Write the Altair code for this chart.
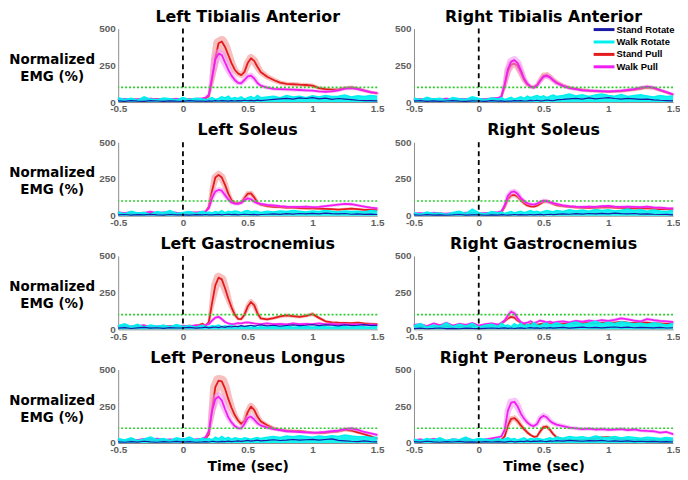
import altair as alt
import pandas as pd

TIME = [-0.5, -0.45, -0.4, -0.35, -0.3, -0.25, -0.2, -0.15, -0.1, -0.05,
        0.0, 0.05, 0.1, 0.15, 0.175, 0.2, 0.225, 0.25, 0.275, 0.3,
        0.325, 0.35, 0.375, 0.4, 0.425, 0.45, 0.475, 0.5, 0.525, 0.55,
        0.575, 0.6, 0.65, 0.7, 0.75, 0.8, 0.85, 0.9, 0.95, 1.0,
        1.05, 1.1, 1.15, 1.2, 1.25, 1.3, 1.35, 1.4, 1.45, 1.5]

SERIES = ["Stand Rotate", "Walk Rotate", "Stand Pull", "Walk Pull"]
COLORS = ["#1a1aa6", "#00f0f0", "#e41a1c", "#f01ef0"]
BAND_COLORS = {"Stand Pull": "#f28b8b", "Walk Pull": "#f590f5"}
X_TICKS = [-0.5, 0, 0.5, 1, 1.5]
Y_TICKS = [0, 250, 500]
THRESHOLD = [100]
EVENT = [0]

# Left Tibialis Anterior
LTA_SR = [8, 5, 10, 6, 4, 9, 7, 5, 8, 6,
          5, 9, 6, 7, 5, 8, 6, 9, 7, 10,
          8, 6, 9, 7, 10, 8, 12, 9, 11, 8,
          13, 10, 14, 18, 22, 25, 20, 28, 24, 30,
          22, 26, 18, 24, 20, 16, 12, 10, 9, 8]
LTA_WR = [30, 18, 25, 12, 35, 20, 15, 28, 22, 14,
          30, 18, 25, 20, 15, 22, 30, 18, 25, 35,
          28, 40, 22, 30, 25, 35, 20, 30, 38, 25,
          45, 30, 35, 40, 30, 45, 35, 40, 30, 42,
          35, 45, 38, 40, 48, 35, 42, 38, 45, 40]
LTA_SP = [20, 18, 22, 15, 20, 17, 21, 16, 19, 22,
          18, 20, 17, 22, 25, 40, 150, 300, 400, 412,
          375, 320, 265, 220, 195, 183, 205, 265, 298, 280,
          240, 205, 172, 150, 132, 124, 121, 118, 116, 112,
          95, 88, 84, 86, 95, 100, 92, 78, 66, 60]
LTA_WP = [18, 22, 15, 20, 16, 24, 18, 20, 17, 22,
          20, 18, 22, 25, 30, 50, 170, 290, 330, 320,
          270, 220, 180, 150, 130, 128, 150, 175, 180, 160,
          130, 112, 98, 90, 88, 86, 84, 82, 80, 78,
          72, 70, 72, 80, 92, 95, 88, 78, 68, 60]

# Right Tibialis Anterior
RTA_SR = [6, 9, 5, 8, 4, 7, 10, 6, 5, 8,
          7, 5, 9, 6, 8, 5, 7, 6, 9, 8,
          10, 7, 8, 11, 9, 12, 8, 10, 14, 11,
          9, 15, 18, 22, 25, 20, 28, 22, 26, 30,
          24, 20, 25, 22, 18, 20, 15, 12, 10, 8]
RTA_WR = [28, 15, 32, 20, 25, 12, 30, 22, 18, 35,
          25, 15, 28, 20, 30, 18, 25, 32, 20, 28,
          35, 25, 40, 30, 38, 45, 35, 42, 30, 40,
          48, 38, 45, 55, 42, 50, 38, 48, 55, 45,
          40, 52, 38, 45, 50, 42, 35, 45, 38, 42]
RTA_SP = [15, 18, 14, 20, 16, 18, 15, 19, 17, 20,
          18, 16, 20, 22, 35, 110, 210, 255, 262, 245,
          200, 150, 120, 105, 103, 115, 150, 180, 184, 170,
          150, 135, 112, 98, 90, 82, 78, 75, 72, 70,
          72, 75, 80, 85, 92, 100, 95, 80, 65, 50]
RTA_WP = [20, 18, 22, 16, 20, 24, 18, 22, 20, 18,
          22, 20, 25, 28, 40, 120, 225, 275, 285, 265,
          215, 160, 125, 105, 98, 112, 145, 172, 178, 168,
          148, 130, 110, 95, 88, 80, 78, 76, 74, 72,
          75, 78, 82, 88, 98, 105, 98, 82, 68, 52]

# Left Soleus
LS_SR = [5, 8, 4, 7, 5, 9, 6, 4, 8, 5,
         6, 4, 7, 5, 8, 6, 5, 7, 9, 6,
         8, 10, 7, 9, 6, 8, 10, 8, 7, 9,
         6, 8, 10, 12, 9, 14, 11, 15, 12, 16,
         13, 18, 14, 12, 15, 10, 12, 9, 11, 8]
LS_WR = [25, 12, 30, 18, 22, 10, 28, 20, 35, 15,
         22, 28, 15, 30, 20, 25, 18, 28, 22, 35,
         20, 30, 25, 32, 28, 20, 30, 35, 25, 30,
         28, 22, 30, 25, 32, 28, 35, 30, 25, 32,
         28, 35, 30, 25, 32, 28, 30, 25, 35, 30]
LS_SP = [15, 12, 18, 14, 16, 20, 15, 18, 14, 17,
         15, 18, 20, 22, 28, 60, 170, 260, 278, 260,
         210, 150, 105, 88, 85, 90, 120, 150, 152, 125,
         90, 75, 65, 60, 58, 55, 55, 52, 50, 50,
         48, 46, 44, 42, 45, 48, 44, 40, 42, 40]
LS_WP = [22, 18, 25, 15, 20, 28, 18, 22, 25, 20,
         18, 24, 20, 26, 30, 50, 120, 165, 175, 170,
         140, 110, 90, 82, 80, 88, 105, 118, 112, 95,
         85, 80, 74, 70, 65, 62, 60, 60, 62, 58,
         60, 65, 70, 75, 80, 78, 70, 62, 55, 50]

# Right Soleus
RS_SR = [5, 3, 7, 4, 6, 3, 5, 8, 4, 6,
         5, 3, 6, 4, 7, 5, 4, 6, 8, 5,
         7, 5, 6, 8, 5, 7, 9, 6, 8, 10,
         7, 9, 12, 10, 14, 11, 15, 12, 16, 13,
         18, 14, 12, 15, 11, 13, 10, 8, 9, 6]
RS_WR = [20, 10, 25, 15, 18, 8, 22, 30, 15, 45,
         20, 12, 28, 18, 25, 15, 22, 28, 18, 25,
         30, 20, 28, 35, 25, 30, 22, 28, 35, 30,
         25, 35, 28, 40, 32, 38, 30, 42, 35, 40,
         32, 38, 45, 35, 40, 30, 38, 32, 28, 35]
RS_SP = [12, 10, 14, 12, 15, 10, 13, 11, 14, 12,
         10, 13, 15, 18, 22, 60, 115, 138, 142, 130,
         105, 85, 70, 63, 62, 68, 82, 95, 98, 90,
         80, 72, 65, 60, 56, 55, 54, 55, 56, 58,
         55, 54, 52, 50, 52, 50, 48, 45, 44, 42]
RS_WP = [15, 18, 12, 20, 16, 14, 18, 15, 20, 17,
         15, 18, 20, 25, 30, 70, 135, 160, 165, 150,
         120, 100, 85, 78, 76, 82, 95, 102, 100, 92,
         85, 80, 70, 65, 62, 60, 62, 60, 65, 66,
         62, 60, 62, 60, 58, 62, 56, 55, 52, 50]

# Left Gastrocnemius
LG_SR = [8, 12, 6, 10, 14, 8, 11, 7, 12, 9,
         10, 14, 8, 12, 15, 10, 13, 16, 12, 18,
         14, 20, 16, 22, 18, 25, 20, 24, 28, 22,
         26, 30, 24, 28, 22, 26, 30, 25, 28, 32,
         26, 30, 28, 24, 30, 26, 28, 32, 25, 28]
LG_WR = [25, 38, 20, 35, 15, 30, 22, 28, 18, 32,
         20, 25, 15, 28, 20, 18, 25, 22, 30, 18,
         25, 20, 28, 15, 22, 25, 18, 20, 15, 22,
         12, 18, 15, 20, 18, 22, 15, 18, 20, 15,
         22, 18, 15, 20, 18, 15, 22, 18, 15, 20]
LG_SP = [20, 15, 18, 22, 16, 20, 14, 18, 22, 16,
         20, 25, 22, 38, 25, 50, 180, 300, 352, 340,
         280, 210, 150, 100, 72, 70, 100, 155, 186, 165,
         110, 75, 68, 77, 88, 95, 90, 85, 92, 104,
         78, 55, 48, 45, 44, 42, 45, 40, 38, 36]
LG_WP = [20, 25, 18, 22, 28, 15, 20, 25, 18, 22,
         25, 20, 28, 24, 30, 35, 60, 80, 85, 70,
         50, 40, 35, 38, 42, 40, 45, 48, 44, 40,
         38, 35, 40, 36, 38, 34, 40, 36, 38, 35,
         40, 36, 38, 34, 36, 32, 35, 30, 32, 30]

# Right Gastrocnemius
RG_SR = [5, 8, 4, 6, 9, 5, 7, 4, 8, 6,
         5, 7, 9, 6, 8, 10, 7, 9, 6, 8,
         10, 7, 9, 12, 8, 10, 7, 11, 9, 12,
         8, 10, 13, 9, 12, 15, 11, 14, 10, 13,
         16, 12, 15, 11, 14, 12, 10, 13, 9, 11]
RG_WR = [25, 40, 15, 30, 20, 45, 18, 35, 22, 40,
         15, 28, 35, 20, 42, 25, 30, 18, 38, 25,
         40, 22, 35, 28, 45, 30, 25, 38, 42, 30,
         35, 45, 28, 40, 50, 35, 42, 55, 38, 48,
         40, 52, 45, 38, 42, 35, 45, 38, 30, 40]
RG_SP = [20, 25, 18, 22, 28, 20, 24, 18, 22, 25,
         20, 24, 28, 30, 40, 55, 75, 85, 80, 60,
         45, 35, 30, 35, 38, 32, 36, 40, 38, 35,
         40, 36, 38, 42, 40, 45, 42, 40, 44, 48,
         45, 50, 46, 44, 48, 45, 42, 40, 38, 40]
RG_WP = [30, 35, 22, 40, 28, 45, 25, 38, 30, 42,
         25, 35, 40, 32, 45, 60, 95, 120, 110, 75,
         50, 40, 45, 55, 42, 50, 60, 55, 48, 52,
         45, 50, 55, 48, 58, 52, 60, 55, 62, 58,
         65, 75, 68, 60, 55, 70, 62, 58, 55, 50]

# Left Peroneus Longus
LPL_SR = [8, 5, 10, 6, 12, 8, 5, 9, 7, 11,
          6, 9, 5, 8, 10, 7, 12, 9, 8, 11,
          10, 13, 9, 12, 15, 11, 14, 18, 13, 16,
          20, 15, 18, 22, 17, 20, 24, 19, 22, 25,
          20, 24, 28, 18, 15, 12, 10, 14, 9, 8]
LPL_WR = [30, 20, 35, 15, 28, 40, 22, 30, 18, 35,
          25, 40, 20, 32, 25, 30, 22, 40, 28, 45,
          30, 38, 25, 35, 30, 28, 35, 30, 25, 32,
          38, 30, 40, 45, 38, 48, 42, 50, 45, 40,
          48, 42, 50, 45, 55, 48, 42, 45, 38, 40]
LPL_SP = [20, 18, 22, 16, 20, 24, 18, 22, 19, 21,
          18, 22, 20, 25, 30, 60, 230, 380, 425, 420,
          370, 300, 240, 190, 155, 130, 150, 210, 248, 225,
          180, 148, 120, 100, 90, 85, 82, 80, 75, 70,
          68, 70, 75, 80, 90, 85, 72, 60, 45, 30]
LPL_WP = [22, 18, 25, 20, 28, 22, 30, 20, 25, 22,
          28, 20, 25, 30, 40, 80, 220, 300, 315, 290,
          230, 175, 140, 115, 102, 100, 130, 170, 180, 160,
          135, 120, 105, 95, 88, 80, 78, 75, 72, 70,
          72, 75, 80, 85, 95, 100, 90, 75, 65, 55]

# Right Peroneus Longus
RPL_SR = [10, 6, 12, 8, 5, 9, 7, 11, 6, 8,
          5, 9, 7, 10, 8, 6, 9, 12, 8, 10,
          12, 9, 14, 10, 13, 11, 15, 12, 10, 14,
          12, 16, 13, 18, 15, 12, 16, 14, 18, 12,
          15, 11, 14, 10, 12, 9, 11, 8, 10, 7]
RPL_WR = [25, 15, 30, 20, 35, 18, 28, 22, 40, 20,
          30, 25, 18, 32, 22, 28, 35, 25, 30, 20,
          28, 35, 22, 30, 25, 32, 28, 22, 30, 35,
          28, 40, 32, 45, 38, 42, 35, 48, 40, 38,
          45, 35, 42, 38, 32, 40, 35, 30, 38, 32]
RPL_SP = [15, 12, 18, 14, 16, 12, 15, 18, 14, 16,
          12, 15, 18, 20, 22, 45, 120, 165, 170, 150,
          120, 95, 72, 55, 42, 45, 80, 108, 112, 90,
          60, 40, 25, 22, 20, 22, 25, 30, 38, 40,
          30, 25, 22, 20, 24, 22, 20, 18, 20, 18]
RPL_WP = [20, 25, 18, 28, 22, 15, 25, 20, 30, 22,
          18, 25, 32, 40, 45, 90, 220, 275, 280, 250,
          200, 165, 140, 122, 115, 130, 170, 185, 175, 150,
          135, 125, 115, 105, 100, 95, 98, 92, 95, 90,
          92, 95, 88, 92, 85, 82, 80, 70, 75, 60]

PANELS = ["Left Tibialis Anterior", "Right Tibialis Anterior",
          "Left Soleus", "Right Soleus",
          "Left Gastrocnemius", "Right Gastrocnemius",
          "Left Peroneus Longus", "Right Peroneus Longus"]
PANEL_DATA = [
    [LTA_SR, LTA_WR, LTA_SP, LTA_WP],
    [RTA_SR, RTA_WR, RTA_SP, RTA_WP],
    [LS_SR, LS_WR, LS_SP, LS_WP],
    [RS_SR, RS_WR, RS_SP, RS_WP],
    [LG_SR, LG_WR, LG_SP, LG_WP],
    [RG_SR, RG_WR, RG_SP, RG_WP],
    [LPL_SR, LPL_WR, LPL_SP, LPL_WP],
    [RPL_SR, RPL_WR, RPL_SP, RPL_WP],
]

rows = []
for p, arrs in zip(PANELS, PANEL_DATA):
    for s, arr in zip(SERIES, arrs):
        for t, v in zip(TIME, arr):
            rows.append({"panel": p, "series": s, "t": t, "v": v})
df = pd.DataFrame(rows)
thr = pd.DataFrame({"v": THRESHOLD})
evt = pd.DataFrame({"t": EVENT})

LABEL_EXPR = "datum.value < 0 ? '-' + format(-datum.value, '~g') : format(datum.value, '~g')"


def legend_layers():
    out = []
    for k, (s, c) in enumerate(zip(SERIES, COLORS)):
        ly = 1 + 12.5 * k
        ldf = pd.DataFrame({"series": [s]})
        out.append(alt.Chart(ldf).mark_rule(color=c, strokeWidth=3).encode(
            x=alt.value(181), x2=alt.value(202), y=alt.value(ly)))
        out.append(alt.Chart(ldf).mark_text(
            align="left", baseline="middle", font="Liberation Sans", fontWeight="bold",
            fontSize=9.5, color="black").encode(
            text="series:N", x=alt.value(204), y=alt.value(ly)))
    return out


def make_panel(i, name):
    left = i % 2 == 0
    bottom = i >= 6
    xax = dict(values=X_TICKS, labelExpr=LABEL_EXPR, grid=False, ticks=False,
               labelPadding=2, labelFlush=False)
    if bottom:
        xax.update(title="Time (sec)", titlePadding=5, titleFontSize=14)
    else:
        xax.update(title=None)
    x = alt.X("t:Q", scale=alt.Scale(domain=[-0.5, 1.5], nice=False, zero=False),
              axis=alt.Axis(**xax))
    yax = dict(values=Y_TICKS, grid=False, ticks=False, labelPadding=3)
    if left:
        yax.update(title=["Normalized", "EMG (%)"], titleAngle=0, titleAlign="center",
                   titleBaseline="top", titleX=-67, titleY=24, titleLineHeight=17,
                   titleFontSize=13.5)
    else:
        yax.update(title=None)
    y = alt.Y("v:Q", scale=alt.Scale(domain=[0, 500], nice=False), axis=alt.Axis(**yax))
    color = alt.Color("series:N", scale=alt.Scale(domain=SERIES, range=COLORS),
                      legend=None)
    band_size = alt.Size("v:Q", scale=alt.Scale(domain=[0, 450], range=[1.5, 12]),
                         legend=None)
    src = alt.Chart(df).transform_filter(alt.datum.panel == name)
    layers = []
    for s in SERIES[2:]:
        sub = src.transform_filter(alt.datum.series == s)
        layers.append(sub.mark_trail(color=BAND_COLORS[s], opacity=0.55).encode(
            x=x, y=y, size=band_size))
        layers.append(sub.mark_line(strokeWidth=1.8, strokeJoin="round").encode(
            x=x, y=y, color=color))
    sub_sr = src.transform_filter(alt.datum.series == SERIES[0])
    sub_wr = src.transform_filter(alt.datum.series == SERIES[1])
    # walk rotate noise band (filled) with its edge line, then stand rotate
    layers.append(sub_wr.mark_area(color=COLORS[1], opacity=0.9).encode(x=x, y=y))
    layers.append(sub_wr.mark_line(strokeWidth=1.5).encode(x=x, y=y, color=color))
    layers.append(sub_sr.mark_line(strokeWidth=1.2).encode(x=x, y=y, color=color))
    layers.append(alt.Chart(thr).mark_rule(color="#2ecc2e", strokeDash=[2, 2],
                                           strokeWidth=1.6).encode(y=y))
    layers.append(alt.Chart(evt).mark_rule(color="black", strokeDash=[5, 4],
                                           strokeWidth=1.8).encode(x=x))
    if i == 1:
        layers.extend(legend_layers())
    return alt.layer(*layers).properties(
        width=261, height=74,
        title=alt.TitleParams(name, fontSize=16, font="DejaVu Sans", fontWeight="bold",
                              color="black", offset=-1, frame="group"))


charts = [make_panel(i, p) for i, p in enumerate(PANELS)]
chart = alt.concat(*charts, columns=2, spacing={"row": 8.5, "column": 10}).properties(
    padding={"top": -1, "left": 0, "right": 0, "bottom": 0}
).configure_view(strokeWidth=0).configure_axis(
    labelFont="Liberation Sans", labelFontWeight="bold", labelFontSize=10,
    labelColor="#5f5f5f", domainColor="#8c8c8c", domainWidth=1,
    titleFont="DejaVu Sans", titleFontWeight="bold", titleColor="black"
)

chart.save("out.html", embed_options={"renderer": "svg", "actions": False})
